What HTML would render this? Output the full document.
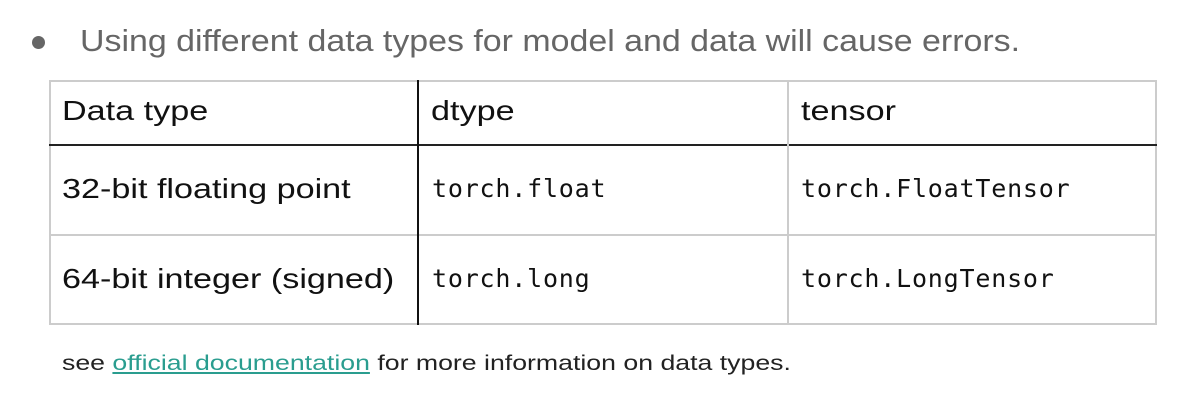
<!DOCTYPE html>
<html><head><style>
body{margin:0;width:1189px;height:403px;background:#fff;position:relative;overflow:hidden;font-family:"Liberation Sans","DejaVu Sans",sans-serif}
.a{position:absolute;white-space:nowrap;transform-origin:0 0}
.h{font-size:28px;color:#111;transform:scaleX(1.22)}
.m{font-family:"DejaVu Sans Mono","Liberation Mono",monospace;font-size:25px;letter-spacing:0.8px;color:#111}
.l{position:absolute}
</style></head><body>
<div class="a" style="left:32px;top:36px;width:13px;height:13px;border-radius:50%;background:#666"></div>
<div class="a" style="left:80px;top:23px;font-size:31px;color:#666;transform:scaleX(1.094)">Using different data types for model and data will cause errors.</div>
<div class="l" style="left:49px;top:80px;width:1108px;height:245px;border:2px solid #ccc;box-sizing:border-box"></div>
<div class="l" style="left:49px;top:144px;width:1108px;height:2px;background:#222"></div>
<div class="l" style="left:49px;top:234px;width:1108px;height:2px;background:#ccc"></div>
<div class="l" style="left:417px;top:80px;width:2px;height:245px;background:#111"></div>
<div class="l" style="left:787px;top:80px;width:2px;height:245px;background:#ccc"></div>
<div class="a h" style="left:62px;top:95px">Data type</div>
<div class="a h" style="left:431px;top:95px">dtype</div>
<div class="a h" style="left:801px;top:95px">tensor</div>
<div class="a h" style="left:62px;top:173px">32-bit floating point</div>
<div class="a m" style="left:432px;top:174px">torch.float</div>
<div class="a m" style="left:801px;top:174px">torch.FloatTensor</div>
<div class="a h" style="left:62px;top:263px">64-bit integer (signed)</div>
<div class="a m" style="left:432px;top:264px">torch.long</div>
<div class="a m" style="left:801px;top:264px">torch.LongTensor</div>
<div class="a" style="left:62px;top:352px;font-size:21px;color:#222;transform:scaleX(1.27)">see <span style="color:#2a9d8f;text-decoration:underline">official documentation</span> for more information on data types.</div>
</body></html>
